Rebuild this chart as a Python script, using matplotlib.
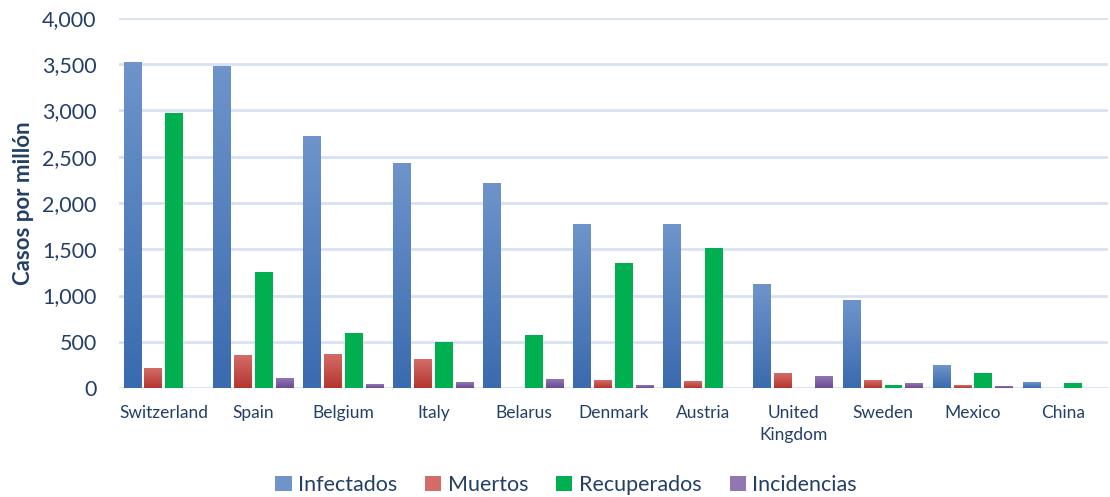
import numpy as np
import matplotlib.pyplot as plt
from matplotlib.colors import LinearSegmentedColormap
from matplotlib.patches import Patch

plt.rcParams['font.family'] = ['Lato', 'DejaVu Sans']

paises = ['Switzerland', 'Spain', 'Belgium', 'Italy', 'Belarus', 'Denmark',
          'Austria', 'United\nKingdom', 'Sweden', 'Mexico', 'China']
infectados = [3525, 3485, 2729, 2437, 2221, 1768, 1768, 1120, 947, 245, 62]
muertos = [213, 353, 364, 310, 5, 83, 72, 159, 83, 29, 3]
recuperados = [2974, 1257, 598, 501, 569, 1357, 1519, 5, 29, 159, 51]
incidencias = [5, 105, 40, 62, 94, 29, 3, 126, 51, 18, 3]

series = ['Infectados', 'Muertos', 'Recuperados', 'Incidencias']
valores = [infectados, muertos, recuperados, incidencias]
# color arriba, color abajo (degradado)
colores = [('#6E94CA', '#3A6BAF'), ('#D36C68', '#B5362F'),
           ('#00B050', '#00B050'), ('#9077B2', '#6C4A94')]

texto = '#243F66'

fig = plt.figure(figsize=(11.1, 4.97), dpi=100)
ax = fig.add_axes([0.107, 0.219, 0.891, 0.745])

x = np.arange(len(paises))
ancho = 0.198
paso = 0.232
grad = np.linspace(1, 0, 100).reshape(-1, 1)
for i, (nombre, vals, (c1, c2)) in enumerate(zip(series, valores, colores)):
    pos = x + (i - 1.5) * paso
    barras = ax.bar(pos, vals, width=ancho, color=c2, zorder=2, label=nombre)
    if c1 != c2:
        cmap = LinearSegmentedColormap.from_list(nombre, [c2, c1])
        for b in barras:
            bx, by = b.get_x(), b.get_y()
            w, h = b.get_width(), b.get_height()
            im = ax.imshow(grad, cmap=cmap, aspect='auto', zorder=3,
                           extent=[bx, bx + w, by, by + h], vmin=0, vmax=1)
            im.set_clip_path(b)

ax.set_xlim(-0.5, len(paises) - 0.5)
ax.set_ylim(0, 4000)
ax.set_yticks(np.arange(0, 4001, 500))
ax.set_yticklabels(['{:,}'.format(v) for v in range(0, 4001, 500)])
ax.yaxis.grid(True, color='#D6E1F1', linewidth=2, zorder=0)
ax.set_axisbelow(True)
ax.set_xticks(x)
ax.set_xticklabels(paises, fontsize=12.5, color=texto, linespacing=1.45)
ax.tick_params(axis='y', labelsize=15.5, colors=texto, length=0, pad=16)
ax.tick_params(axis='x', length=0, pad=12)
for s in ax.spines.values():
    s.set_visible(False)
ax.set_ylabel('Casos por millón', fontsize=16, fontweight='bold', color=texto, labelpad=6)

handles = [Patch(facecolor=c2 if c1 == c2 else c1, label=n) for n, (c1, c2) in zip(series, colores)]
fig.legend(handles=handles, loc='lower center', bbox_to_anchor=(0.51, -0.035), ncol=4,
           frameon=False, fontsize=15.5, handlelength=0.75, handleheight=0.75,
           handletextpad=0.3, columnspacing=1.3, labelcolor=texto)

fig.savefig('out.png', dpi=100)
